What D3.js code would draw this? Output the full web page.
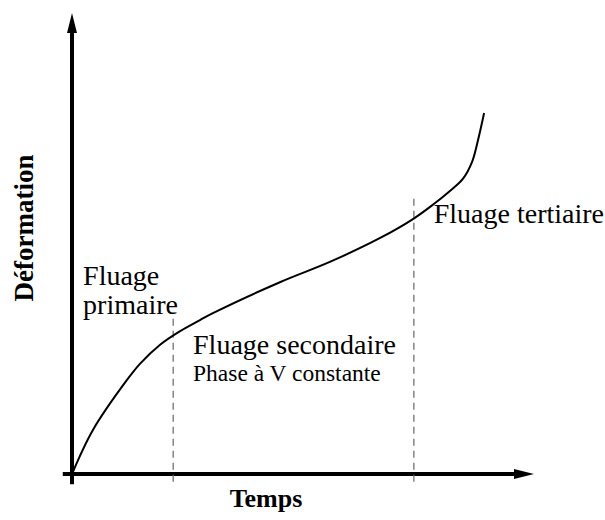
<!DOCTYPE html>
<html>
<head>
<meta charset="utf-8">
<script src="https://cdn.jsdelivr.net/npm/d3@7"></script>
<style>
  body { margin: 0; background: #fff; }
  text { font-family: "Liberation Serif", "Times New Roman", serif; }
</style>
</head>
<body>
<div id="chart"></div>
<script>
// Creep curve (time, strain)
const temps = [0, 4.5, 11.9, 14.7, 19.0, 23.4, 27.7, 30.5, 45.0, 55.8, 66.7, 73.8, 78.1, 81.8, 84.6, 86.6, 87.9, 89.2];
const deformation = [0, 9.5, 20.4, 23.9, 28.0, 31.0, 33.4, 34.9, 41.6, 46.0, 51.2, 55.3, 58.4, 61.4, 64.0, 67.7, 72.5, 78.3];

// Phase boundaries (time) and how high their dashed lines go
const limites = [21.9, 74.0];
const limitesHaut = [33.8, 60.5];

// Labels: text, anchor in data units, size
const etiquettes = [
    { text: "Fluage", t: 2.4, d: 41.0, size: 28 },
    { text: "primaire", t: 2.4, d: 34.7, size: 28 },
    { text: "Fluage secondaire", t: 26.2, d: 26.0, size: 28 },
    { text: "Phase à V constante", t: 26.2, d: 20.2, size: 23.5 },
    { text: "Fluage tertiaire", t: 78.3, d: 54.4, size: 28 }
];

const titreX = "Temps";
const titreY = "Déformation";

document.addEventListener("DOMContentLoaded", function() {
    const width = 605, height = 520;

    const svg = d3.select("#chart").append("svg")
        .attr("width", width)
        .attr("height", height);

    const x = d3.scaleLinear().domain([0, 100]).range([72, 534]);
    const y = d3.scaleLinear().domain([0, 100]).range([474, 13]);

    const arrowLen = 20, arrowHalf = 5;

    // Axes with arrow heads
    svg.append("line")
        .attr("x1", x(-2)).attr("y1", y(0))
        .attr("x2", x(100) - arrowLen + 1).attr("y2", y(0))
        .attr("stroke", "#000").attr("stroke-width", 4);
    svg.append("path")
        .attr("d", `M${x(100)},${y(0)} L${x(100) - arrowLen},${y(0) - arrowHalf} L${x(100) - arrowLen},${y(0) + arrowHalf} Z`)
        .attr("fill", "#000");

    svg.append("line")
        .attr("x1", x(0)).attr("y1", y(-2.2))
        .attr("x2", x(0)).attr("y2", y(100) + arrowLen - 1)
        .attr("stroke", "#000").attr("stroke-width", 4);
    svg.append("path")
        .attr("d", `M${x(0)},${y(100)} L${x(0) - arrowHalf},${y(100) + arrowLen} L${x(0) + arrowHalf},${y(100) + arrowLen} Z`)
        .attr("fill", "#000");

    // Dashed phase boundaries
    svg.selectAll(".limite")
        .data(limites)
        .enter()
        .append("line")
        .attr("class", "limite")
        .attr("x1", d => x(d)).attr("x2", d => x(d))
        .attr("y1", y(-1.7))
        .attr("y2", (d, i) => y(limitesHaut[i]))
        .attr("stroke", "#666")
        .attr("stroke-width", 1.2)
        .attr("stroke-dasharray", "7,5");

    // Creep curve
    const points = temps.map((t, i) => [t, deformation[i]]);
    const line = d3.line()
        .x(d => x(d[0]))
        .y(d => y(d[1]))
        .curve(d3.curveCatmullRom.alpha(0.5));

    svg.append("path")
        .datum(points)
        .attr("d", line)
        .attr("fill", "none")
        .attr("stroke", "#000")
        .attr("stroke-width", 2);

    // Phase labels
    svg.selectAll(".etiquette")
        .data(etiquettes)
        .enter()
        .append("text")
        .attr("class", "etiquette")
        .attr("x", d => x(d.t))
        .attr("y", d => y(d.d))
        .attr("font-size", d => d.size)
        .text(d => d.text);

    // Axis titles
    svg.append("text")
        .attr("x", 266)
        .attr("y", 507)
        .attr("text-anchor", "middle")
        .attr("font-size", 26)
        .attr("font-weight", "bold")
        .text(titreX);

    svg.append("text")
        .attr("transform", "translate(33,228) rotate(-90)")
        .attr("text-anchor", "middle")
        .attr("font-size", 27)
        .attr("font-weight", "bold")
        .text(titreY);
});
</script>
</body>
</html>
